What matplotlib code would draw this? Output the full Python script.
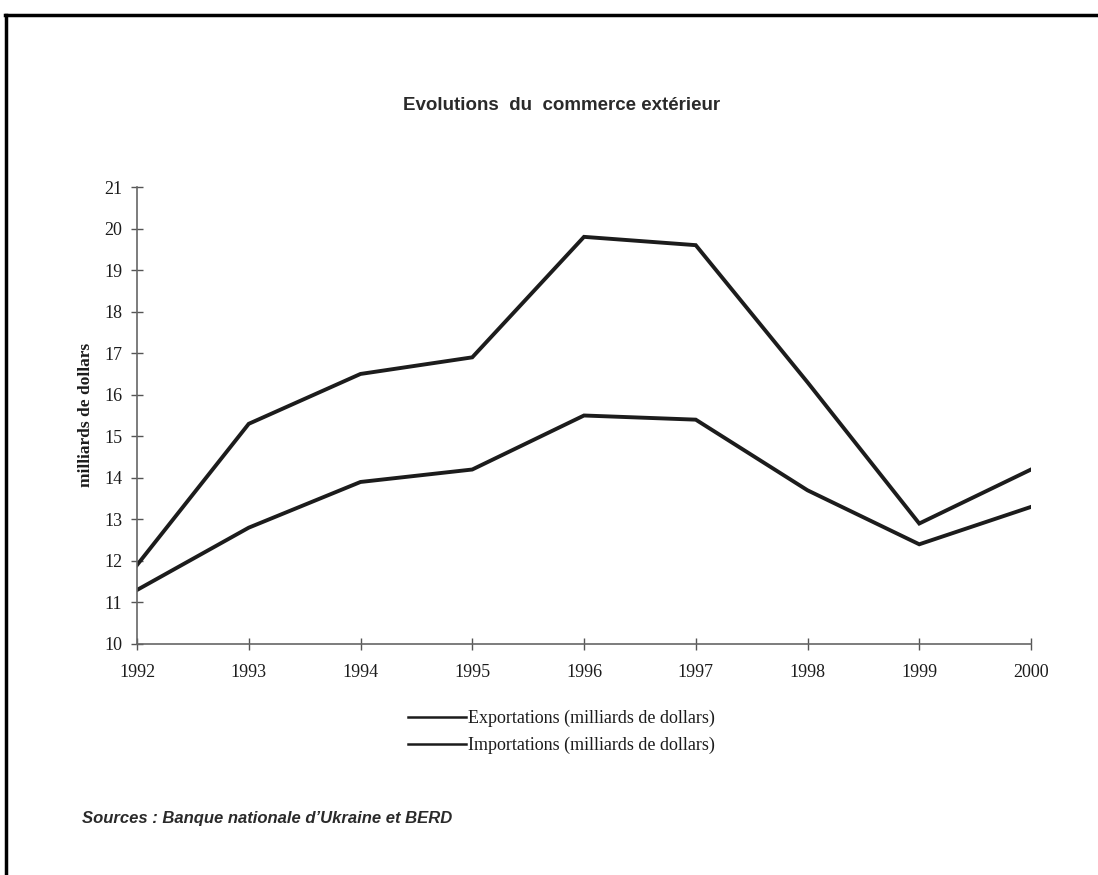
import matplotlib
matplotlib.use("Agg")
import matplotlib.pyplot as plt
from matplotlib.lines import Line2D

years = [1992, 1993, 1994, 1995, 1996, 1997, 1998, 1999, 2000]
exports = [11.3, 12.8, 13.9, 14.2, 15.5, 15.4, 13.7, 12.4, 13.3]
imports = [11.9, 15.3, 16.5, 16.9, 19.8, 19.6, 16.3, 12.9, 14.2]
series_names = ["Exportations (milliards de dollars)",
                "Importations (milliards de dollars)"]
y_ticks = list(range(10, 22))

serif = ["Liberation Serif", "DejaVu Serif"]
sans = ["Liberation Sans", "DejaVu Sans"]
ink = "#1c1c1c"

fig = plt.figure(figsize=(10.98, 8.75), dpi=100)
W, H = 1098, 875

ax = fig.add_axes([137 / W, 1 - 644 / H, (1031 - 137) / W, (644 - 187) / H])
ax.plot(years, exports, color=ink, lw=2.8, solid_joinstyle="miter")
ax.plot(years, imports, color=ink, lw=2.8, solid_joinstyle="miter")

ax.set_xlim(years[0], years[-1])
ax.set_ylim(y_ticks[0], y_ticks[-1])
ax.set_xticks(years)
ax.set_yticks(y_ticks)
ax.tick_params(direction="inout", length=9, width=1, color="#555555",
               labelsize=13, labelcolor=ink, pad=6)
ax.tick_params(axis="x", pad=10)
for lab in ax.get_xticklabels() + ax.get_yticklabels():
    lab.set_family(serif)
for s in ["top", "right"]:
    ax.spines[s].set_visible(False)
for s in ["left", "bottom"]:
    ax.spines[s].set_color("#666666")
    ax.spines[s].set_linewidth(1.2)

fig.text(86 / W, 1 - 415 / H, "milliards de dollars", rotation=90,
         ha="center", va="center", fontsize=12.5, fontweight="bold",
         family=serif, color=ink)

fig.text(562 / W, 1 - 105 / H, "Evolutions  du  commerce extérieur",
         ha="center", va="center", fontsize=13.5, fontweight="bold",
         family=sans, color="#2a2a2a")

handles = [Line2D([], [], color=ink, lw=1.8), Line2D([], [], color=ink, lw=1.8)]
leg = fig.legend(handles, series_names, loc="upper left",
                 bbox_to_anchor=(408 / W, 1 - 710 / H), frameon=False,
                 prop={"family": serif, "size": 13}, handlelength=3.2,
                 handletextpad=0.1, labelspacing=0.52, borderaxespad=0,
                 borderpad=0)
for t in leg.get_texts():
    t.set_color(ink)

fig.text(82 / W, 1 - 818 / H, "Sources : Banque nationale d\u2019Ukraine et BERD",
         ha="left", va="center", fontsize=12, fontweight="bold",
         style="italic", family=sans, color="#2a2a2a")

# page frame (top and left edges only)
fig.add_artist(Line2D([6 / W, 6 / W], [0, 1 - 15 / H], transform=fig.transFigure,
                      color="black", lw=2.5))
fig.add_artist(Line2D([5 / W, 1], [1 - 15 / H, 1 - 15 / H], transform=fig.transFigure,
                      color="black", lw=2.5))

fig.savefig("out.png", dpi=100)
